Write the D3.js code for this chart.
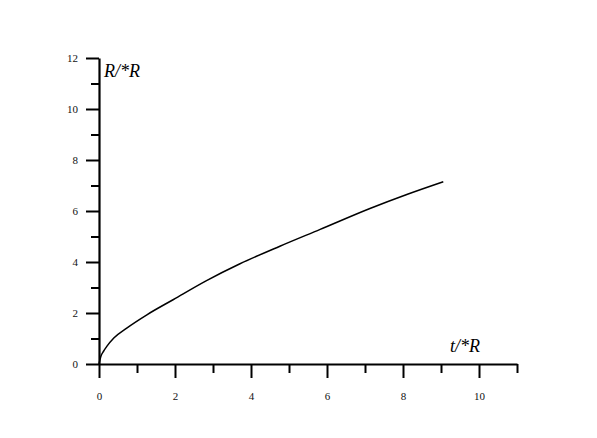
<!DOCTYPE html>
<html>
<head>
<meta charset="utf-8">
<script src="https://cdn.jsdelivr.net/npm/d3@7"></script>
<style>
  body { margin: 0; background: #fff; }
  svg { display: block; }
</style>
</head>
<body>
<div id="app"></div>
<script>
// curve
const xValues = [0, 0.05, 0.12, 0.21, 0.39, 0.74, 1.26, 1.96, 2.83, 3.71, 4.76, 5.82, 7.13, 8.1, 9.06];
const yValues = [0, 0.3, 0.5, 0.7, 1.02, 1.42, 1.93, 2.53, 3.27, 3.93, 4.62, 5.28, 6.1, 6.65, 7.15];

const xMajor = [0, 2, 4, 6, 8, 10];
const xMinor = [1, 3, 5, 7, 9, 11];
const yMajor = [0, 2, 4, 6, 8, 10, 12];
const yMinor = [1, 3, 5, 7, 9, 11];

const xLabel = "t/*R";
const yLabel = "R/*R";

const W = 597, H = 438;
const svg = d3.select("#app").append("svg").attr("width", W).attr("height", H);

const x = d3.scaleLinear().domain([0, 11]).range([99, 517]);
const y = d3.scaleLinear().domain([0, 12]).range([364, 58]);

const tickFont = "'Liberation Serif', serif";

// y axis: major ticks with labels, minor ticks shorter
svg.append("g").attr("transform", `translate(${x(0)},0)`)
  .call(d3.axisLeft(y).tickValues(yMajor).tickSize(13).tickSizeOuter(0).tickPadding(8).tickFormat(d3.format("d")));
svg.append("g").attr("transform", `translate(${x(0)},0)`)
  .call(d3.axisLeft(y).tickValues(yMinor).tickSize(8).tickSizeOuter(0).tickFormat(""))
  .select(".domain").remove();

// x axis
svg.append("g").attr("transform", `translate(0,${y(0)})`)
  .call(d3.axisBottom(x).tickValues(xMajor).tickSize(14).tickSizeOuter(0).tickPadding(14).tickFormat(d3.format("d")));
svg.append("g").attr("transform", `translate(0,${y(0)})`)
  .call(d3.axisBottom(x).tickValues(xMinor).tickSize(9).tickSizeOuter(0).tickFormat(""))
  .select(".domain").remove();

svg.selectAll(".domain").attr("stroke", "#000").attr("stroke-width", 2.2);
svg.selectAll(".tick line").attr("stroke", "#000").attr("stroke-width", 2);
svg.selectAll(".tick text")
  .attr("font-family", tickFont)
  .attr("font-size", 11)
  .attr("fill", "#111");

// curve
const pts = xValues.map((v, i) => [v, yValues[i]]);
svg.append("path")
  .datum(pts)
  .attr("fill", "none")
  .attr("stroke", "#000")
  .attr("stroke-width", 1.5)
  .attr("d", d3.line().x(d => x(d[0])).y(d => y(d[1])).curve(d3.curveMonotoneX));

// axis titles
svg.append("text")
  .attr("x", 104).attr("y", 77)
  .attr("font-family", "'Liberation Serif', serif")
  .attr("font-style", "italic")
  .attr("font-size", 18)
  .text(yLabel);

svg.append("text")
  .attr("x", 450).attr("y", 352)
  .attr("font-family", "'Liberation Serif', serif")
  .attr("font-style", "italic")
  .attr("font-size", 18)
  .text(xLabel);
</script>
</body>
</html>
